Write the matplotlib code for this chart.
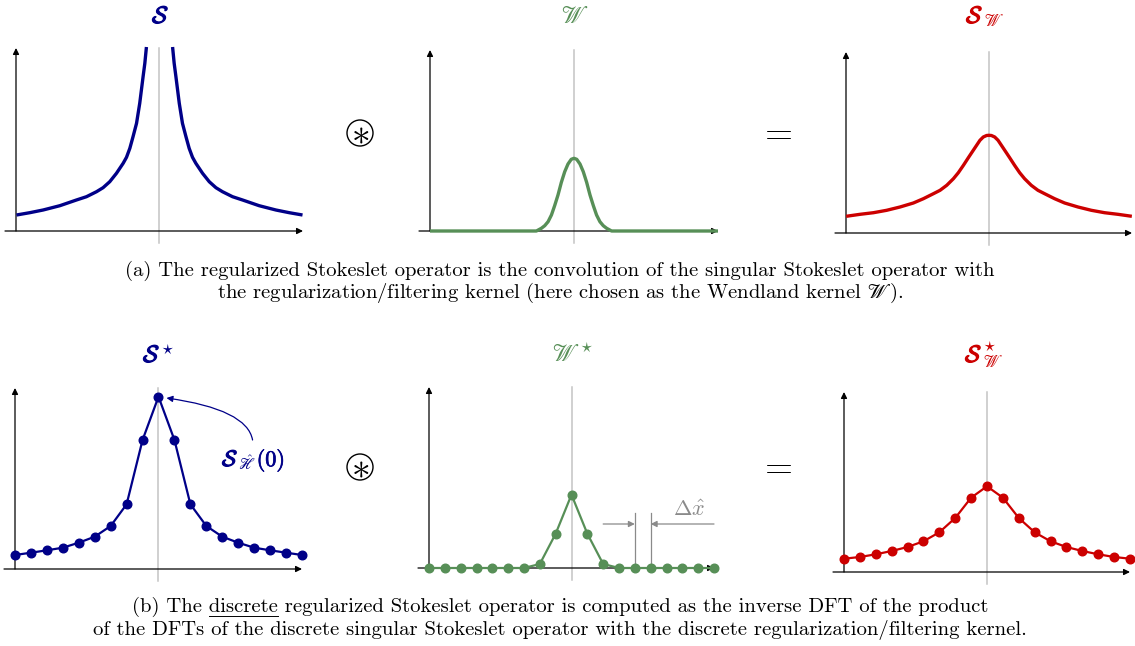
import numpy as np
import matplotlib.pyplot as plt
import matplotlib.patheffects as pe
from matplotlib.patches import Circle
from matplotlib.transforms import IdentityTransform

plt.rcParams['mathtext.fontset'] = 'cm'
plt.rcParams['font.family'] = 'cmr10'
plt.rcParams['axes.unicode_minus'] = False

W, H = 1135, 646

blue = '#000088'
green = '#578f57'
red = '#cc0000'
grid_gray = '#c4c4c4'
note_gray = '#8a8a8a'

# continuous operators, left half only (grid units), mirrored about x = 0
s_x = [-8.97, -8.14, -7.30, -6.25, -5.21, -4.58, -3.95, -3.54, -3.12, -2.70,
       -2.28, -2.07, -1.86, -1.66, -1.44, -1.24, -1.03, -0.92, -0.82]
s_y = [16, 18.3, 21, 25.3, 31, 34.3, 39.3, 43.3, 49.3, 57.7,
       67.7, 73.7, 82.7, 94.3, 107.7, 127.7, 154.3, 167.7, 184]

w_x = [-9, -2.35, -2.04, -1.83, -1.62, -1.41, -1.21, -1.0, -0.79, -0.58, -0.375, -0.17, 0]
w_y = [0, 0, 2.7, 5.3, 9.3, 16, 25.3, 36, 48.7, 59.3, 67, 71.7, 72.7]

sw_x = [-8.99, -8.11, -7.27, -6.44, -5.60, -4.76, -4.13, -3.50, -3.08, -2.66,
        -2.24, -1.93, -1.61, -1.30, -0.99, -0.78, -0.57, -0.36, -0.15, 0]
sw_y = [16.7, 18.7, 20.3, 22.7, 26, 30, 34.3, 39.3, 42.7, 47.7,
        54.3, 60.3, 67.7, 75.3, 82.7, 87.7, 92.7, 96, 97.5, 97.7]

# discrete operators on the grid
grid = np.arange(-9, 10)
s_star = [14, 16.3, 18.7, 21.3, 26.3, 32.3, 43, 64.7, 129, 172.3,
          129, 64.7, 43, 32.3, 26.3, 21.3, 18.7, 16.3, 14]
w_star = [0, 0, 0, 0, 0, 0, 0, 4, 34.3, 73.3,
          34.3, 4, 0, 0, 0, 0, 0, 0, 0]
sw_star = [13.3, 15, 17.7, 21, 25, 30.7, 39.7, 54, 74.3, 85.7,
           74.3, 54, 39.7, 30.7, 25, 21, 17.7, 15, 13.3]


def mirror(x, y):
    x = list(x)
    y = list(y)
    if x[-1] == 0:
        return x + [-v for v in x[-2::-1]], y + y[-2::-1]
    return x + [-v for v in x[::-1]], y + y[::-1]


def panel(fig, x0, x1, yb, yt):
    # x0/x1: y-axis and arrow tip, yb/yt: x-axis and y arrow tip (pixels from top)
    ax = fig.add_axes([x0 / W, 1 - yb / H, (x1 - x0) / W, (yb - yt) / H])
    top = yb - yt
    ax.set_xlim(-9, 9)
    ax.set_ylim(0, top)
    ax.axis('off')
    unit = (x1 - x0) / 18
    arrow = dict(arrowstyle='-|>', lw=0.9, color='black', shrinkA=0, shrinkB=0,
                 mutation_scale=9)
    ax.plot([0, 0], [-12, top], color=grid_gray, lw=1.1, clip_on=False, zorder=1)
    ax.annotate('', xy=(9, 0), xytext=(-9 - 11 / unit, 0), arrowprops=arrow,
                annotation_clip=False, zorder=2)
    ax.annotate('', xy=(-9, top), xytext=(-9, 0), arrowprops=arrow,
                annotation_clip=False, zorder=2)
    return ax


def label(fig, x, y, parts, color, size=17):
    # parts placed one after another on a common baseline; a stroke width > 0
    # thickens that part (bold calligraphic S)
    r = fig.canvas.get_renderer()
    for s, stroke in parts:
        kw = {}
        if stroke:
            kw['path_effects'] = [pe.withStroke(linewidth=stroke, foreground=color)]
        t = fig.text(x, H - y, s, color=color, fontsize=size, ha='left', va='baseline',
                     transform=IdentityTransform(), **kw)
        x += t.get_window_extent(r).width


def curve(ax, x, y, color):
    ax.plot(x, y, color=color, lw=2.4, clip_on=False, zorder=3,
            solid_joinstyle='round', solid_capstyle='butt')


S = (r'$\mathcal{S}$', 0.9)

fig = plt.figure(figsize=(W / 100, H / 100), dpi=100)

# (a) continuous operators
ax = panel(fig, 16, 303, 231, 48)
curve(ax, s_x, s_y, blue)
curve(ax, [-v for v in s_x], s_y, blue)

ax = panel(fig, 430, 718, 231, 50)
curve(ax, *mirror(w_x, w_y), green)

ax = panel(fig, 846, 1132, 233, 52)
curve(ax, *mirror(sw_x, sw_y), red)

label(fig, 152, 23, [S], blue)
label(fig, 561, 23, [(r'$\mathscr{W}$', 0)], green)
label(fig, 966, 23, [S, (r'${}_{\mathscr{W}}$', 0)], red)

# (b) discrete operators
ax = panel(fig, 15, 302, 569, 388)
ax.plot(grid, s_star, color=blue, lw=1.6, marker='o', ms=6.2, clip_on=False, zorder=3)
ax.annotate('', xy=(0.5, 171), xytext=(5.9, 129),
            arrowprops=dict(arrowstyle='-|>', lw=0.9, color=blue, shrinkA=0, shrinkB=0,
                            mutation_scale=9,
                            connectionstyle='angle3,angleA=100,angleB=-8'),
            annotation_clip=False)
label(fig, 222, 466, [S, (r'${}_{\hat{\mathscr{H}}}$', 0), (r'$(\mathbf{0})$', 0.5)],
      blue, size=16)

ax = panel(fig, 429, 714, 568, 387)
ax.plot(grid, w_star, color=green, lw=1.6, marker='o', ms=6.2, clip_on=False, zorder=3)
step = dict(arrowstyle='-|>', lw=0.9, color=note_gray, shrinkA=0, shrinkB=0,
            mutation_scale=9)
ax.plot([4, 4], [0, 55], color=note_gray, lw=0.9, zorder=2)
ax.plot([5, 5], [0, 55], color=note_gray, lw=0.9, zorder=2)
ax.annotate('', xy=(4, 44), xytext=(2, 44), arrowprops=step)
ax.annotate('', xy=(5, 44), xytext=(9, 44), arrowprops=step, annotation_clip=False)
ax.text(7.4, 58, r'$\Delta\hat{x}$', color=note_gray, fontsize=16, ha='center', va='center')

ax = panel(fig, 844, 1130, 572, 392)
ax.plot(grid, sw_star, color=red, lw=1.6, marker='o', ms=6.2, clip_on=False, zorder=3)

label(fig, 143, 362, [S, (r'${}^{\star}$', 0)], blue)
label(fig, 552, 362, [(r'$\mathscr{W}^{\star}$', 0)], green)
label(fig, 965, 362, [S, (r'${}^{\star}_{\mathscr{W}}$', 0)], red)

# convolution and equality signs between the panels
for y in (133, 467):
    fig.add_artist(Circle((360 / 100, (H - y) / 100), 0.13, fill=False, lw=1.0,
                          color='black', transform=fig.dpi_scale_trans))
    fig.text(360 / W, 1 - (y + 1) / H, r'$\ast$', fontsize=27, ha='center', va='center')
    fig.text(775 / W, 1 - y / H, r'$=$', fontsize=26, ha='center', va='center')

# captions
cap_size = 14.9
cap = dict(fontsize=cap_size, ha='center', va='center', family='cmr10')
fig.text(560 / W, 1 - 271 / H, '(a) The regularized Stokeslet operator is the convolution of the singular Stokeslet operator with', **cap)
fig.text(560 / W, 1 - 293 / H, r'the regularization/filtering kernel (here chosen as the Wendland kernel $\mathscr{W}$).', **cap)
line_b = fig.text(560 / W, 1 - 607 / H, '(b) The discrete regularized Stokeslet operator is computed as the inverse DFT of the product', **cap)
fig.text(560 / W, 1 - 630 / H, 'of the DFTs of the discrete singular Stokeslet operator with the discrete regularization/filtering kernel.', **cap)

# underline the word "discrete" in caption (b)
r = fig.canvas.get_renderer()
full = line_b.get_window_extent(r)
probe = fig.text(0, 0, '(b) The ', fontsize=cap_size, family='cmr10')
pre = probe.get_window_extent(r).width
probe.set_text('discrete')
word = probe.get_window_extent(r).width
probe.remove()
ux0 = full.x0 + pre
fig.add_artist(plt.Line2D([ux0 / W, (ux0 + word) / W], [1 - 616 / H, 1 - 616 / H],
                          color='black', lw=0.7))

fig.savefig('out.png', dpi=100)
